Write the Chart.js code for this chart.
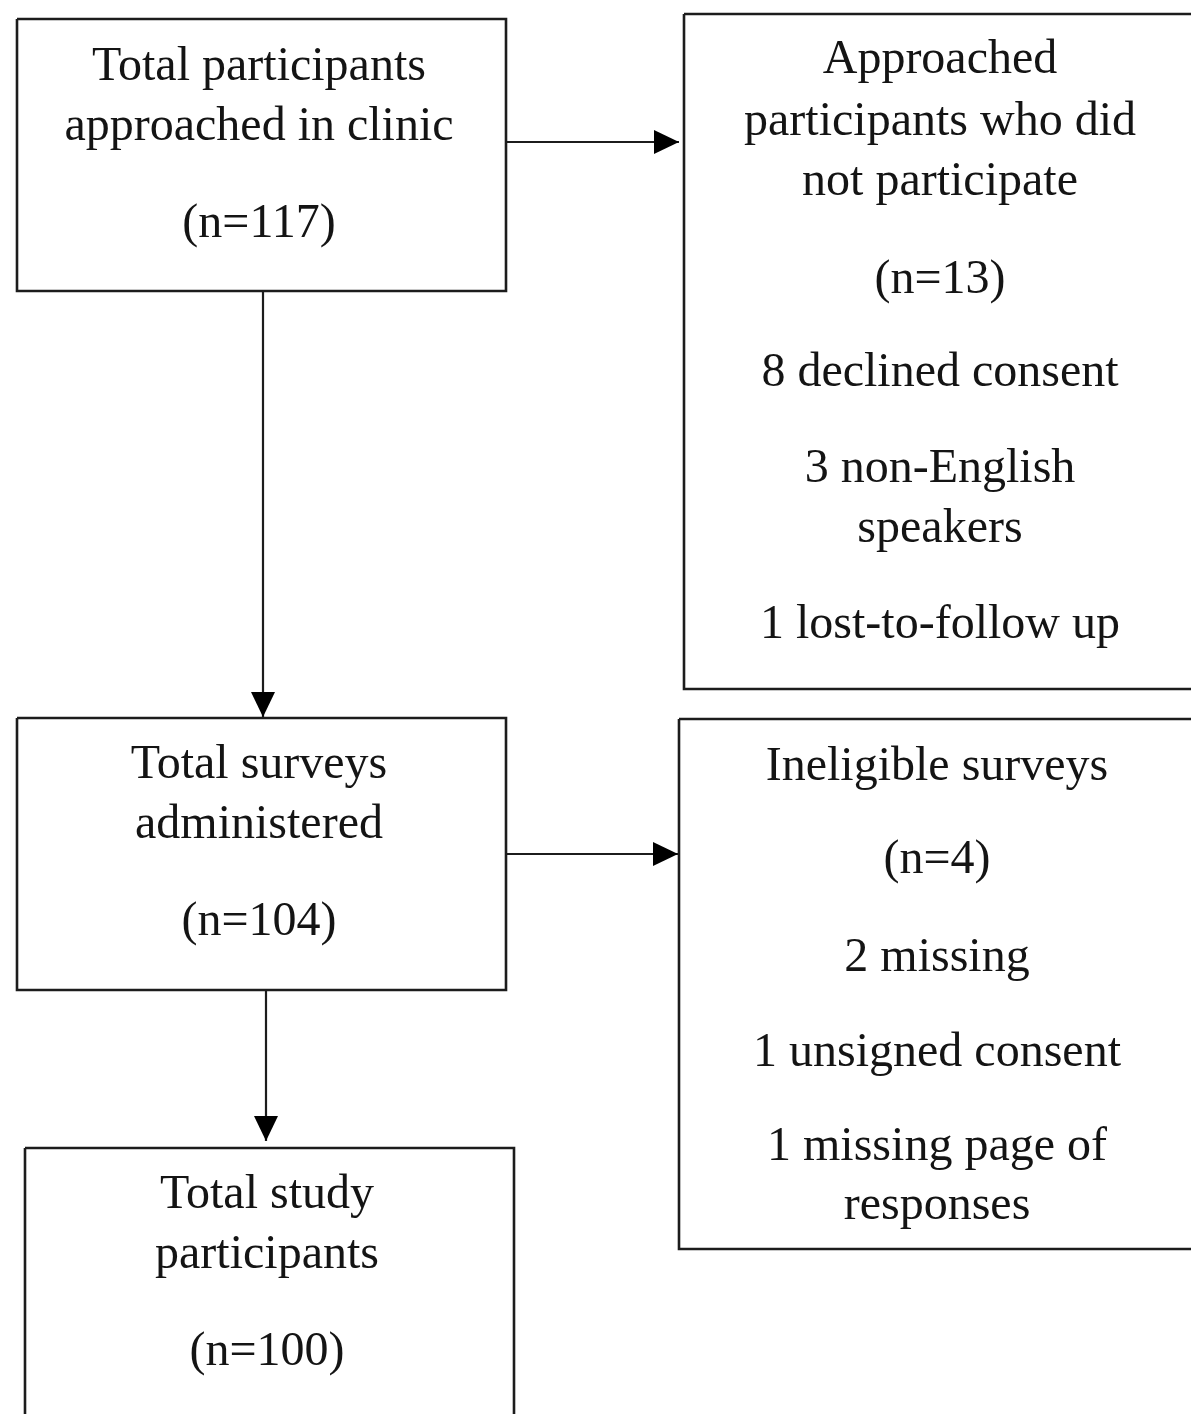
<!DOCTYPE html>
<html>
<head>
<meta charset="utf-8">
<script src="https://cdn.jsdelivr.net/npm/chart.js@4.4.1/dist/chart.umd.min.js"></script>
<style>
  html, body { margin: 0; padding: 0; background: #fff; }
  #flow { display: block; }
</style>
</head>
<body>
<canvas id="flow" width="1191" height="1414"></canvas>
<script>
// boxes of the flow diagram (in diagram units, 1 unit = 1 px)
const boxLeft = [17, 684, 17, 679, 25];
const boxTop = [19, 14, 718, 719, 1148];
const boxRight = [506, 1196, 506, 1196, 514];
const boxBottom = [291, 689, 990, 1249, 1420];

// text of each box, one entry per printed line, with its baseline
const boxLines = [
  ["Total participants", "approached in clinic", "(n=117)"],
  ["Approached", "participants who did", "not participate", "(n=13)",
   "8 declined consent", "3 non-English", "speakers", "1 lost-to-follow up"],
  ["Total surveys", "administered", "(n=104)"],
  ["Ineligible surveys", "(n=4)", "2 missing", "1 unsigned consent",
   "1 missing page of", "responses"],
  ["Total study", "participants", "(n=100)"],
];
const boxBaselines = [
  [80, 140, 237],
  [73, 135, 195, 293, 386, 482, 542, 638],
  [778, 838, 935],
  [780, 873, 971, 1066, 1160, 1219],
  [1208, 1268, 1365],
];
const textCenterX = [259, 940, 259, 937, 267];

// connectors: start point -> arrow tip
const arrowFromX = [506, 263, 506, 266];
const arrowFromY = [142, 292, 854, 990];
const arrowToX = [679, 263, 678, 266];
const arrowToY = [142, 717, 854, 1141];

const lineColor = "#1c1c1c";

const boxDatasets = boxLeft.map((l, i) => ({
  data: [
    { x: l, y: boxTop[i] },
    { x: boxRight[i], y: boxTop[i] },
    { x: boxRight[i], y: boxBottom[i] },
    { x: l, y: boxBottom[i] },
    { x: l, y: boxTop[i] },
  ],
  showLine: true,
  borderColor: lineColor,
  borderWidth: 2.6,
  pointRadius: 0,
  fill: false,
}));

const arrowDatasets = arrowFromX.map((x, i) => ({
  data: [
    { x: x, y: arrowFromY[i] },
    { x: arrowToX[i], y: arrowToY[i] },
  ],
  showLine: true,
  borderColor: lineColor,
  borderWidth: 2.2,
  pointRadius: 0,
  fill: false,
}));

// arrow heads and box text, placed through the chart scales
const flowPlugin = {
  id: "flowPlugin",
  afterDatasetsDraw(chart) {
    const { ctx, scales } = chart;
    const xs = scales.x;
    const ys = scales.y;

    ctx.save();
    ctx.fillStyle = "#000";
    for (let i = 0; i < arrowToX.length; i++) {
      const tx = xs.getPixelForValue(arrowToX[i]);
      const ty = ys.getPixelForValue(arrowToY[i]);
      const fx = xs.getPixelForValue(arrowFromX[i]);
      const fy = ys.getPixelForValue(arrowFromY[i]);
      const ang = Math.atan2(ty - fy, tx - fx);
      const len = 25;
      const half = 12;
      const bx = tx - Math.cos(ang) * len;
      const by = ty - Math.sin(ang) * len;
      ctx.beginPath();
      ctx.moveTo(tx, ty);
      ctx.lineTo(bx - Math.sin(ang) * half, by + Math.cos(ang) * half);
      ctx.lineTo(bx + Math.sin(ang) * half, by - Math.cos(ang) * half);
      ctx.closePath();
      ctx.fill();
    }

    ctx.fillStyle = "#141414";
    ctx.font = "48px 'Liberation Serif', 'Times New Roman', serif";
    ctx.textAlign = "center";
    ctx.textBaseline = "alphabetic";
    boxLines.forEach((lines, i) => {
      const cx = xs.getPixelForValue(textCenterX[i]);
      lines.forEach((txt, j) => {
        ctx.fillText(txt, cx, ys.getPixelForValue(boxBaselines[i][j]));
      });
    });
    ctx.restore();
  },
};

new Chart(document.getElementById("flow"), {
  type: "scatter",
  data: { datasets: [...boxDatasets, ...arrowDatasets] },
  options: {
    responsive: false,
    animation: false,
    layout: { padding: 0 },
    plugins: { legend: { display: false }, tooltip: { enabled: false } },
    scales: {
      x: { type: "linear", min: 0, max: 1191, display: false },
      y: { type: "linear", min: 0, max: 1414, reverse: true, display: false },
    },
  },
  plugins: [flowPlugin],
});
</script>
</body>
</html>
